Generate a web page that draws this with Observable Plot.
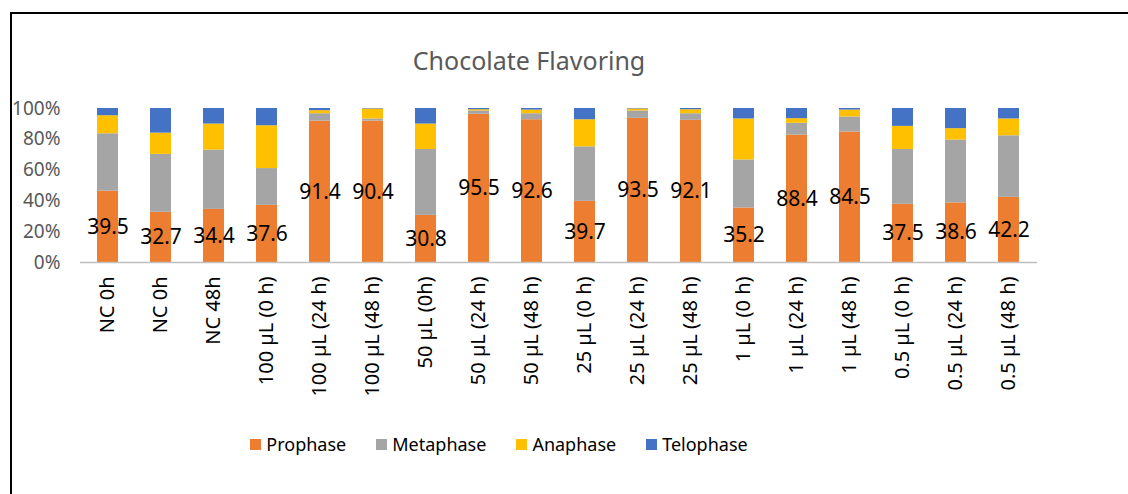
<!DOCTYPE html>
<html><head><meta charset="utf-8">
<script src="https://cdn.jsdelivr.net/npm/d3@7"></script>
<script src="https://cdn.jsdelivr.net/npm/@observablehq/plot@0.6"></script>
<style>
body{margin:0;background:#fff;font-family:"Noto Sans",sans-serif;}
#wrap{position:relative;width:1128px;height:494px;overflow:hidden;background:#fff;}
#frame{position:absolute;left:10px;top:12px;width:1140px;height:500px;border:2px solid #000;}
#title{position:absolute;left:0;width:1058px;top:44px;text-align:center;font-size:25px;line-height:32px;color:#595959;}
#chart{position:absolute;left:0;top:80px;}
#legend{position:absolute;top:430px;left:0;width:998px;display:flex;justify-content:center;gap:30px;font-size:18px;line-height:28px;color:#000;}
#legend .item{display:flex;align-items:center;gap:5px;}
#legend .sw{width:11px;height:11px;display:inline-block;}
</style>
</head><body>
<div id="wrap">
  <div id="frame"></div>
  <div id="title">Chocolate Flavoring</div>
  <div id="chart"></div>
  <div id="legend"></div>
</div>
<script>
const categories = ["NC 0h","NC 0h","NC 48h","100 µL (0 h)","100 µL (24 h)","100 µL (48 h)","50 µL (0h)","50 µL (24 h)","50 µL (48 h)","25 µL (0 h)","25 µL (24 h)","25 µL (48 h)","1 µL (0 h)","1 µL (24 h)","1 µL (48 h)","0.5 µL (0 h)","0.5 µL (24 h)","0.5 µL (48 h)"];
const prophase  = [46.3,32.6,34.5,37.1,91.8,91.8,30.6,96.2,92.7,39.7,93.6,92.3,35.4,82.7,84.7,37.8,38.7,42.3];
const metaphase = [37.3,37.6,38.5,23.9,4.8,1.4,42.8,2.2,3.9,35.4,4.8,4.3,31.2,7.7,9.8,35.6,40.8,40.0];
const anaphase  = [11.7,13.8,16.9,27.8,2.0,6.5,16.5,0.8,2.4,17.6,1.3,2.6,26.6,3.0,4.5,15.0,7.4,10.9];
const telophase = [4.7,16.0,10.1,11.2,1.4,0.3,10.1,0.8,1.0,7.3,0.3,0.8,6.8,6.6,1.0,11.6,13.1,6.8];
const prophaseLabels = [39.5,32.7,34.4,37.6,91.4,90.4,30.8,95.5,92.6,39.7,93.5,92.1,35.2,88.4,84.5,37.5,38.6,42.2];
const phases = ["Prophase","Metaphase","Anaphase","Telophase"];
const colors = ["#ED7D31","#A5A5A5","#FFC000","#4472C4"];
const yTicks = [0,0.2,0.4,0.6,0.8,1];

const series = [prophase, metaphase, anaphase, telophase];
const rows = [];
categories.forEach((c,i)=>phases.forEach((p,j)=>rows.push({i, phase:p, value:series[j][i]})));
const labels = categories.map((c,i)=>{
  const total = series.reduce((s,a)=>s+a[i],0);
  return {i, text:prophaseLabels[i], y:prophase[i]/total/2};
});

const chart = Plot.plot({
  width:1128, height:340,
  marginLeft:80, marginRight:91, marginTop:28, marginBottom:158,
  style:{fontFamily:"'Noto Sans', sans-serif", background:"transparent"},
  x:{domain:d3.range(categories.length), paddingInner:0.6, paddingOuter:0.3, label:null, axis:null},
  y:{domain:[0,1], label:null, axis:null},
  color:{domain:phases, range:colors},
  marks:[
    Plot.barY(rows, Plot.stackY({x:"i", y:"value", fill:"phase", order:phases, offset:"normalize"})),
    Plot.ruleY([0], {stroke:"#bfbfbf", strokeWidth:1.5}),
    Plot.axisX({tickFormat:i=>categories[i], tickRotate:-90, tickSize:0, tickPadding:14, fontSize:20, fill:"#000", label:null}),
    Plot.axisY({ticks:yTicks, tickFormat:d3.format(".0%"), tickSize:0, tickPadding:20, fontSize:19, fill:"#595959", label:null}),
    Plot.text(labels, {x:"i", y:"y", text:d=>d.text.toFixed(1), fontSize:21, fill:"#000"})
  ]
});
document.getElementById("chart").appendChild(chart);

const legend = document.getElementById("legend");
phases.forEach((p,j)=>{
  const it = document.createElement("div"); it.className="item";
  const sw = document.createElement("span"); sw.className="sw"; sw.style.background=colors[j];
  const t = document.createElement("span"); t.textContent=p;
  it.appendChild(sw); it.appendChild(t); legend.appendChild(it);
});
</script>
</body></html>
